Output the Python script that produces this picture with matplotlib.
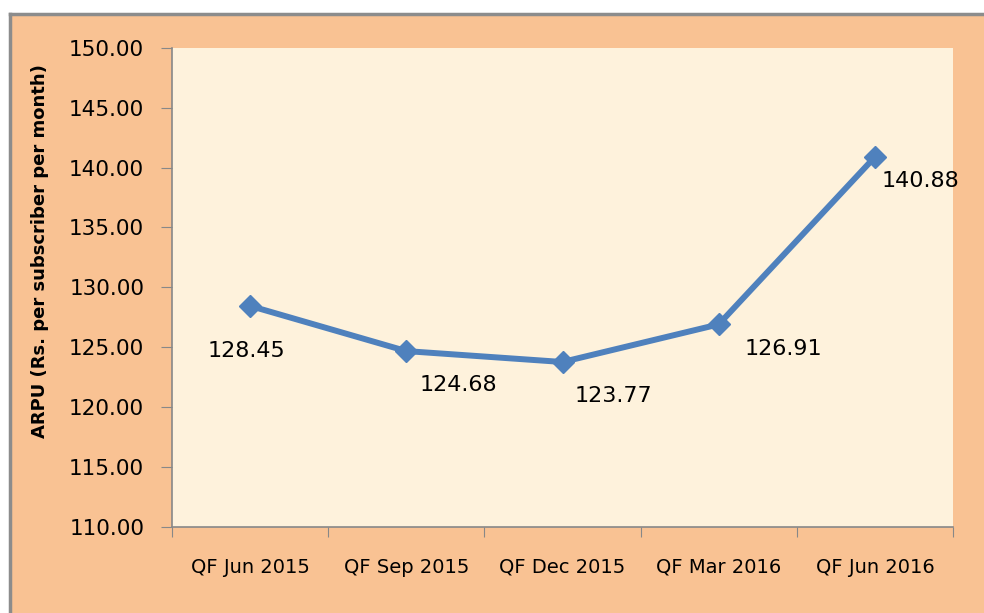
import matplotlib.pyplot as plt
from matplotlib.lines import Line2D

quarters = ['QF Jun 2015', 'QF Sep 2015', 'QF Dec 2015', 'QF Mar 2016', 'QF Jun 2016']
arpu = [128.45, 124.68, 123.77, 126.91, 140.88]
y_ticks = [110, 115, 120, 125, 130, 135, 140, 145, 150]

# label offsets from each point, in pixels
label_offsets = [(-4, -45), (52, -34), (51, -34), (65, -25), (46, -24)]

peach = '#F9C293'
cream = '#FEF2DC'
blue = '#4F81BD'
grey = '#888888'

fig = plt.figure(figsize=(9.84, 6.13), dpi=100, facecolor='white')

# peach panel with a grey edge on the top and left, kept behind the axes
fig.patches.append(plt.Rectangle((10 / 984, 0), 1, 1 - 14 / 613, transform=fig.transFigure,
                                 facecolor=peach, edgecolor='none', zorder=-2))
fig.add_artist(Line2D([10 / 984, 1], [1 - 14 / 613, 1 - 14 / 613], color='#8C8C8C', lw=2.5, zorder=-1))
fig.add_artist(Line2D([10 / 984, 10 / 984], [0, 1 - 14 / 613], color='#8C8C8C', lw=2.5, zorder=-1))

ax = fig.add_axes([172 / 984, 1 - 527 / 613, (953 - 172) / 984, (527 - 47.7) / 613])
ax.set_facecolor(cream)

x = range(len(quarters))
ax.plot(x, arpu, color=blue, lw=4.3, marker='D', markersize=11.5, zorder=3)

for xi, val, (dx, dy) in zip(x, arpu, label_offsets):
    ax.annotate(f'{val:.2f}', (xi, val), xytext=(dx, dy), textcoords='offset pixels',
                ha='center', va='center', fontsize=16, color='black')

ax.set_xlim(-0.5, len(quarters) - 0.5)
ax.set_ylim(110, 150)
ax.set_yticks(y_ticks)
ax.set_yticklabels([f'{v:.2f}' for v in y_ticks], fontsize=15.5)

# category ticks sit between the categories, labels at the centres
ax.set_xticks([i - 0.5 for i in range(len(quarters) + 1)])
ax.set_xticklabels([])
ax.set_xticks(list(x), minor=True)
ax.set_xticklabels(quarters, minor=True, fontsize=14)
ax.tick_params(axis='x', which='major', length=7, color=grey, direction='out')
ax.tick_params(axis='x', which='minor', length=0, pad=22)
ax.tick_params(axis='y', length=8, color=grey, direction='out', pad=12)

for side in ['top', 'right']:
    ax.spines[side].set_visible(False)
for side in ['left', 'bottom']:
    ax.spines[side].set_color(grey)
    ax.spines[side].set_linewidth(1.2)

fig.text(40 / 984, 1 - 251 / 613, 'ARPU (Rs. per subscriber per month)', rotation=90,
         ha='center', va='center', fontsize=13, fontweight='bold')

fig.savefig('out.png', dpi=100, facecolor='white')
